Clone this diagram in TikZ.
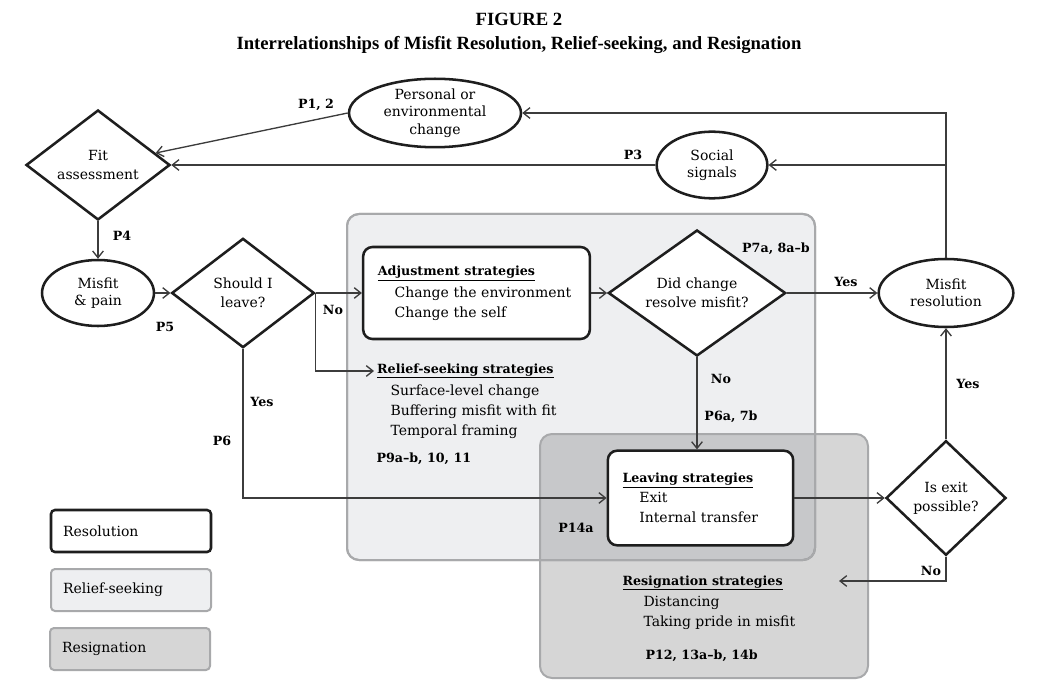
\documentclass[tikz,border=0pt]{standalone}
\usepackage{fontspec}
\setmainfont{DejaVu Serif}
\newfontfamily\titlefont{Liberation Serif}
\usetikzlibrary{shapes.geometric,arrows.meta}

\definecolor{edgeblack}{RGB}{30,30,30}
\definecolor{linegray}{RGB}{60,60,60}
\definecolor{reliefgray}{RGB}{238,239,241}
\definecolor{framegray}{RGB}{168,169,171}

\newcommand{\strathead}[1]{{\fontsize{9.5}{15}\selectfont\bfseries\underline{#1}}}

\tikzset{every picture/.style={line width=0.75pt}}
\tikzset{
  body/.style={font=\fontsize{10.5}{14}\selectfont},
  decision/.style={diamond, draw=edgeblack, line width=1.9pt, fill=white, inner sep=0pt, align=center, body},
  state/.style={ellipse, draw=edgeblack, line width=1.9pt, fill=white, inner sep=0pt, align=center, font=\fontsize{10.5}{13}\selectfont},
  stratbox/.style={rectangle, rounded corners=7pt, draw=edgeblack, line width=1.9pt, fill=white, inner xsep=11pt, align=left, font=\fontsize{10.5}{15}\selectfont},
  striplist/.style={align=left, inner sep=0pt, font=\fontsize{10.5}{15}\selectfont},
  conn/.style={draw=linegray, line width=1pt, -{Straight Barb[length=5pt,width=8pt]}},
  plabel/.style={font=\fontsize{9.5}{11}\selectfont\bfseries, inner sep=0pt},
  keybox/.style={rectangle, rounded corners=3pt, line width=1.5pt, minimum height=31.5pt, inner xsep=9pt, text width=102pt, align=left, body}
}

\begin{document}
\begin{tikzpicture}[x=0.75pt,y=0.75pt,yscale=-1,xscale=1]
\useasboundingbox (0,0) rectangle (1038,691);
% Title
\node[font=\titlefont\bfseries\fontsize{14}{16}\selectfont] (figno) at (519,19) {FIGURE 2};
\node[font=\titlefont\bfseries\fontsize{14}{16}\selectfont] (figtitle) at (519,45) {Interrelationships of Misfit Resolution, Relief-seeking, and Resignation};
% Shaded regions
\draw[draw=framegray, line width=1.5pt, fill=reliefgray, rounded corners=9pt] (347,214) rectangle (815,560);
\draw[draw=framegray, line width=1.5pt, fill=black, fill opacity=0.16, rounded corners=9pt] (540,434) rectangle (868,678);
\draw[draw=framegray, line width=1.5pt, rounded corners=9pt] (347,214) rectangle (815,560);
% Main nodes
\node[decision, shape aspect=1.3, minimum width=108pt, minimum height=82.5pt] (fit) at (98,165) {Fit\\assessment};
\node[state, minimum width=129pt, minimum height=49.5pt] (change) at (435,113) {Personal or\\environmental\\change};
\node[state, minimum width=83pt, minimum height=50pt] (social) at (712,165) {Social\\signals};
\node[state, minimum width=84pt, minimum height=49.5pt] (misfit) at (98,293) {Misfit\\\& pain};
\node[decision, shape aspect=1.3, minimum width=107pt, minimum height=82pt] (leave) at (243,293) {Should I\\leave?};
\node[stratbox, text width=148pt, minimum height=69pt] (adjust) at (476.5,293) {\strathead{Adjustment strategies}\\[1.5pt]\hspace*{1.2em}Change the environment\\\hspace*{1.2em}Change the self};
\node[decision, shape aspect=1.4, minimum width=133pt, minimum height=94.5pt] (resolved) at (697,293) {Did change\\resolve misfit?};
\node[state, minimum width=101pt, minimum height=51pt] (resolution) at (946,293) {Misfit\\resolution};
\node[stratbox, text width=117pt, minimum height=71pt] (leaving) at (700.5,498) {\strathead{Leaving strategies}\\\hspace*{1.2em}Exit\\\hspace*{1.2em}Internal transfer};
\node[decision, shape aspect=1.05, minimum width=90pt, minimum height=86pt] (exitq) at (946,498) {Is exit\\possible?};
% Strategy texts
\node[inner sep=2pt, anchor=west] (reliefhd) at (374,371) {\strathead{Relief-seeking strategies}};
\node[striplist, anchor=north west] (relieflist) at (390,384) {Surface-level change\\Buffering misfit with fit\\Temporal framing};
\node[plabel, anchor=west] (reliefp) at (376,459) {P9a--b, 10, 11};
\node[inner sep=0pt, anchor=west] (resignhd) at (622,583) {\strathead{Resignation strategies}};
\node[striplist, anchor=north west] (resignlist) at (643,596) {Distancing\\Taking pride in misfit};
\node[plabel, anchor=west] (resignp) at (645,656) {P12, 13a--b, 14b};
\coordinate (resignin) at (839,581);
% Connectors
\draw[conn] (change.west) -- (fit);
\draw[conn] (social.west) -- (fit.east);
\draw[conn] (fit.south) -- (misfit.north);
\draw[conn] (misfit.east) -- (leave.west);
\draw[conn] (leave.east) -- (adjust.west);
\draw[conn] (leave.east) |- (reliefhd.west);
\draw[conn] (leave.south) |- (leaving.west);
\draw[conn] (adjust.east) -- (resolved.west);
\draw[conn] (resolved.east) -- (resolution.west);
\draw[conn] (resolved.south) -- (resolved.south |- leaving.north);
\draw[conn] (leaving.east) -- (exitq.west);
\draw[conn] (exitq.north) -- (resolution.south);
\draw[conn] (exitq.south) |- (resignin);
\draw[conn] (resolution.north) |- (change.east);
\draw[conn] (resolution.north |- social.east) -- (social.east);
% Labels
\node[plabel] (lp12) at (316,105) {P1, 2};
\node[plabel] (lp3) at (633,155) {P3};
\node[plabel] (lp4) at (122,236) {P4};
\node[plabel] (lp5) at (165,327) {P5};
\node[plabel] (lno1) at (333,310) {No};
\node[plabel] (lyes1) at (262,402) {Yes};
\node[plabel] (lp6) at (222,441) {P6};
\node[plabel] (lp7) at (776,249) {P7a, 8a--b};
\node[plabel] (lyes2) at (846,282) {Yes};
\node[plabel] (lno2) at (721,379) {No};
\node[plabel] (lp6a) at (731,417) {P6a, 7b};
\node[plabel] (lp14) at (576,528) {P14a};
\node[plabel] (lyes3) at (968,384) {Yes};
\node[plabel] (lno3) at (931,571) {No};
% Legend
\node[keybox, draw=edgeblack, line width=1.9pt, fill=white] (keyres) at (131,531) {Resolution};
\node[keybox, draw=framegray, fill=reliefgray] (keyrelief) at (131,590) {Relief-seeking};
\node[keybox, draw=framegray, fill=black!16] (keyresign) at (130,649) {Resignation};
\end{tikzpicture}
\end{document}
